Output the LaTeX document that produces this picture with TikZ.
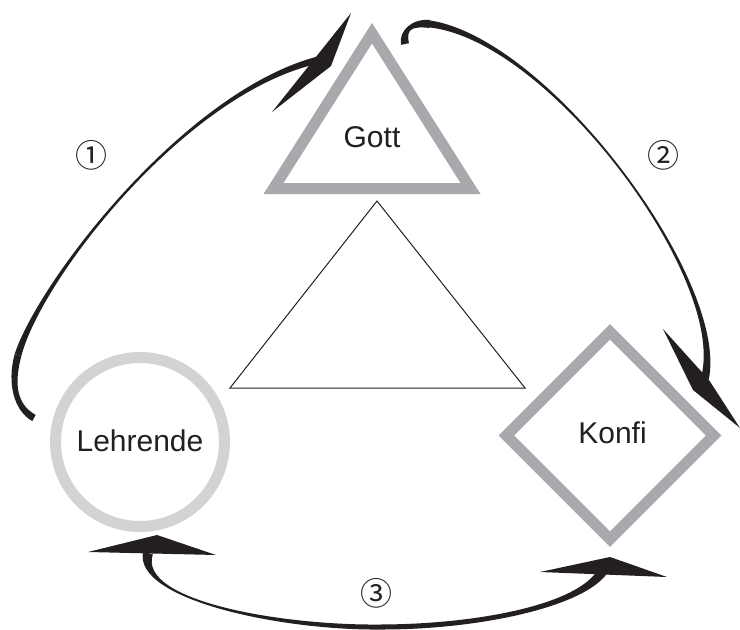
\documentclass[tikz,border=0pt]{standalone}
\usepackage{fontspec}
\setmainfont{Liberation Sans}
\newfontfamily\numfont{Noto Sans CJK SC}
\usetikzlibrary{calc}
\definecolor{ink}{HTML}{231F20}
\definecolor{midgray}{HTML}{A7A9AC}
\definecolor{palegray}{HTML}{D1D3D4}
\tikzset{
  arrowfill/.style={fill=ink},
  shapeline/.style={line width=11pt, line join=miter, draw=midgray},
  ringline/.style={line width=11pt, draw=palegray},
  thinline/.style={line width=1pt, draw=ink, line join=miter},
  lbltext/.style={font=\fontsize{30}{36}\selectfont, text=ink, inner sep=0pt, anchor=base},
  numtext/.style={font=\numfont\fontsize{32}{38}\selectfont, text=ink, inner sep=0pt}
}
% tapered cubic: P0, C1, C2, P3, half-width at P0, at controls, at P3
\newcommand\tapercurve[7]{%
  \fill[arrowfill] ($(#1)!#5!90:(#2)$) .. controls ($(#2)!#6!-90:(#1)$) and ($(#3)!#6!90:(#4)$) .. ($(#4)!#7!-90:(#3)$)
    -- ($(#4)!#7!90:(#3)$) .. controls ($(#3)!#6!-90:(#4)$) and ($(#2)!#6!90:(#1)$) .. ($(#1)!#5!-90:(#2)$) -- cycle;}
\begin{document}
\begin{tikzpicture}[x=1pt,y=-1pt]
\useasboundingbox (0,0) rectangle (740,630);

% shapes
\draw[shapeline] (372,33.2) -- (273.5,188.5) -- (470.5,188.5) -- cycle;
\draw[thinline] (377,201) -- (230,388) -- (525,388) -- cycle;
\draw[ringline] (140,442) circle (84.5pt);
\draw[shapeline] (610,331.8) -- (713.7,435.5) -- (610,539.2) -- (506.3,435.5) -- cycle;

% labels
\node[lbltext] (gott) at (372,147) {Gott};
\node[lbltext] (lehrende) at (140,451) {Lehrende};
\node[lbltext] (konfi) at (612.5,443) {Konfi};

\node[numtext] (n1) at (91,155) {①};
\node[numtext] (n2) at (663,155) {②};
\node[numtext] (n3) at (376,593) {③};

% arrow 1 (Lehrende -> Gott)
\coordinate (a1tail) at (34,418);
\coordinate (a1t1) at (16,408);
\coordinate (a1t2) at (10,385);
\coordinate (a1bend) at (18,355);
\coordinate (a1c1) at (40,280);
\coordinate (a1c2) at (185,92);
\coordinate (a1end) at (318,60);
\tapercurve{a1tail}{a1t1}{a1t2}{a1bend}{3.5pt}{3.5pt}{3.5pt}
\tapercurve{a1bend}{a1c1}{a1c2}{a1end}{3.5pt}{0.7pt}{3.5pt}
\fill[arrowfill] (351,13) -- (331,66) -- (272,112) -- cycle;

% arrow 2 (Gott -> Konfi)
\coordinate (a2tail) at (405,44);
\coordinate (a2t1) at (402,30);
\coordinate (a2t2) at (412,22);
\coordinate (a2bend) at (430,24);
\coordinate (a2c1) at (550,40);
\coordinate (a2c2) at (728,280);
\coordinate (a2end) at (705,378);
\tapercurve{a2tail}{a2t1}{a2t2}{a2bend}{4pt}{4pt}{4pt}
\tapercurve{a2bend}{a2c1}{a2c2}{a2end}{3.5pt}{0.6pt}{4pt}
\fill[arrowfill] (663,329) -- (693,390) -- (740,428) -- (709,380) -- cycle;

% arrow 3 (Lehrende <-> Konfi)
\coordinate (a3l) at (148,553);
\coordinate (a3lc1) at (135,600);
\coordinate (a3lc2) at (280,628);
\coordinate (a3mid) at (380,627);
\coordinate (a3rc1) at (480,627);
\coordinate (a3rc2) at (585,605);
\coordinate (a3r) at (604,569);
\tapercurve{a3l}{a3lc1}{a3lc2}{a3mid}{5pt}{2.5pt}{2.5pt}
\tapercurve{a3mid}{a3rc1}{a3rc2}{a3r}{2.5pt}{2.8pt}{5pt}
\fill[arrowfill] (157,535) -- (216,555) -- (88,552) -- cycle;
\fill[arrowfill] (610,557) -- (667,577) -- (540,572) -- cycle;
\end{tikzpicture}
\end{document}
